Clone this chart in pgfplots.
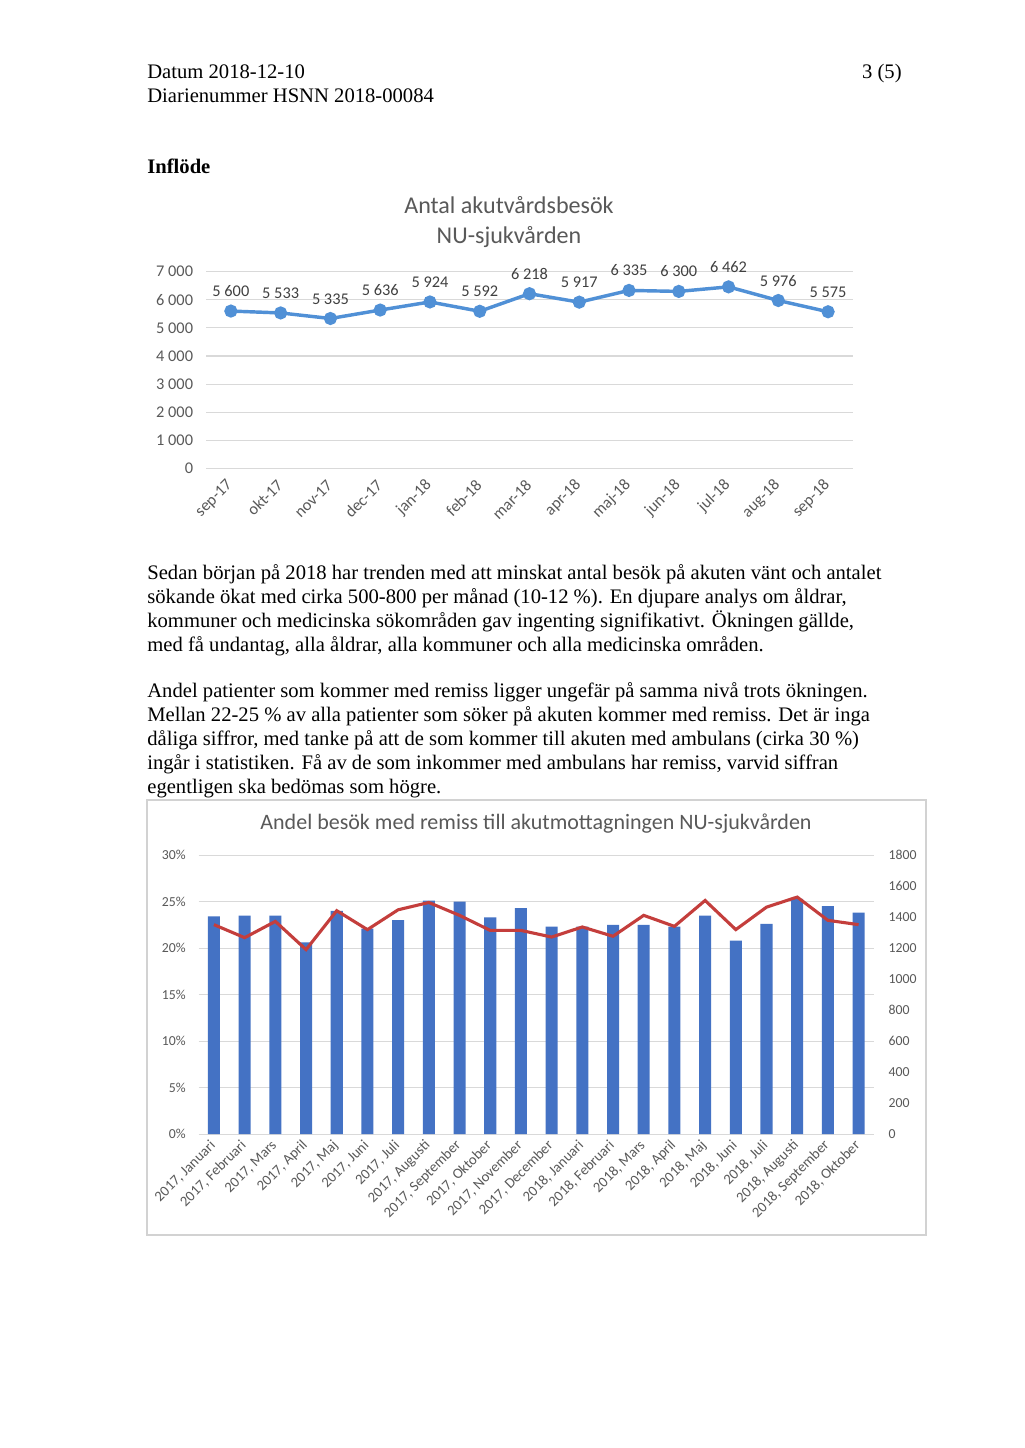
\documentclass[border=0pt]{standalone}
\usepackage{pgfplots}
\pgfplotsset{compat=1.18}
\usepackage{fontspec}
\setmainfont{Liberation Serif}
\newfontfamily\calfont{Carlito}
\definecolor{tickgray}{HTML}{595959}
\definecolor{labgray}{HTML}{404040}
\definecolor{linblue}{HTML}{5090D6}
\definecolor{barblue}{HTML}{4472C4}
\definecolor{linred}{RGB}{196,62,60}
\definecolor{gridgray}{HTML}{D9D9D9}
\begin{document}
\begin{tikzpicture}
\begin{scope}[x=0.5815pt,y=-0.5815pt]
\useasboundingbox (0,0) rectangle (1024,1448);
\fill[white] (0,0) rectangle (1024,1448);
\begin{scope}[every node/.style={inner sep=0pt,font=\fontsize{12}{14}\selectfont}]
\node[anchor=base west] at (147,79) {Datum 2018-12-10};
\node[anchor=base east] at (902,79) {3 (5)};
\node[anchor=base west] at (147,103) {Diarienummer HSNN 2018-00084};
\node[anchor=base west] at (147,174) {\bfseries Inflöde};
\node[anchor=base west] at (147,579) {Sedan början på 2018 har trenden med att minskat antal besök på akuten vänt och antalet};
\node[anchor=base west] at (147,603) {sökande ökat med cirka 500-800 per månad (10-12 \%). En djupare analys om åldrar,};
\node[anchor=base west] at (147,627) {kommuner och medicinska sökområden gav ingenting signifikativt. Ökningen gällde,};
\node[anchor=base west] at (147,651) {med få undantag, alla åldrar, alla kommuner och alla medicinska områden.};
\node[anchor=base west] at (147,697) {Andel patienter som kommer med remiss ligger ungefär på samma nivå trots ökningen.};
\node[anchor=base west] at (147,721) {Mellan 22-25 \% av alla patienter som söker på akuten kommer med remiss. Det är inga};
\node[anchor=base west] at (147,745) {dåliga siffror, med tanke på att de som kommer till akuten med ambulans (cirka 30 \%)};
\node[anchor=base west] at (147,769) {ingår i statistiken. Få av de som inkommer med ambulans har remiss, varvid siffran};
\node[anchor=base west] at (147,793) {egentligen ska bedömas som högre.};
\end{scope}
\node[font=\calfont\fontsize{14}{16}\selectfont,text=tickgray,align=center] at (509,222) {Antal akutvårdsbesök\\[1pt]NU-sjukvården};
\draw[gray!35,line width=0.6pt] (147,800) rectangle (926,1235);
\node[font=\calfont\fontsize{12.8}{15}\selectfont,text=tickgray] at (536,824) {Andel besök med remiss till akutmottagningen NU-sjukvården};
\end{scope}
\begin{axis}[at={(119.79pt,-272.32pt)},anchor=south west,scale only axis,
  width=376.2pt,height=114.3pt,
  xmin=-0.5,xmax=12.5,ymin=0,ymax=7000,
  axis line style={draw=none},tick style={draw=none},
  ymajorgrids,grid style={gridgray,line width=0.6pt},
  ytick={0,1000,...,7000},
  yticklabels={0,1 000,2 000,3 000,4 000,5 000,6 000,7 000},
  xtick={0,...,12},
  xticklabels={sep-17,okt-17,nov-17,dec-17,jan-18,feb-18,mar-18,apr-18,maj-18,jun-18,jul-18,aug-18,sep-18},
  ticklabel style={font=\calfont\fontsize{9.5}{11}\selectfont,text=tickgray},
  xticklabel style={yshift=-6pt,xshift=2pt,rotate=45,anchor=east},
  yticklabel style={xshift=-4pt},
  clip=false]
\addplot[color=linblue,line width=2pt,mark=*,mark size=2.8pt,
  nodes near coords={\pgfmathprintnumber[fixed,precision=0,1000 sep={\ },assume math mode=true]{\pgfplotspointmeta}},
  point meta=y,
  every node near coord/.style={font=\calfont\fontsize{9.5}{11}\selectfont,text=labgray,anchor=south,yshift=4pt}]
 coordinates {(0,5600)(1,5533)(2,5335)(3,5636)(4,5924)(5,5592)(6,6218)(7,5917)(8,6335)(9,6300)(10,6462)(11,5976)(12,5575)};
\end{axis}
\begin{axis}[at={(115.49pt,-659.42pt)},anchor=south west,scale only axis,
  width=392.7pt,height=162.2pt,
  xmin=-0.5,xmax=21.5,ymin=0,ymax=0.30,
  axis line style={draw=none},tick style={draw=none},
  ymajorgrids,grid style={gridgray,line width=0.6pt},
  ytick={0,0.05,...,0.30},
  yticklabels={0\%,5\%,10\%,15\%,20\%,25\%,30\%},
  xtick={0,...,21},
  xticklabels={{2017, Januari},{2017, Februari},{2017, Mars},{2017, April},{2017, Maj},{2017, Juni},{2017, Juli},{2017, Augusti},{2017, September},{2017, Oktober},{2017, November},{2017, December},{2018, Januari},{2018, Februari},{2018, Mars},{2018, April},{2018, Maj},{2018, Juni},{2018, Juli},{2018, Augusti},{2018, September},{2018, Oktober}},
  ticklabel style={font=\calfont\fontsize{8}{9}\selectfont,text=tickgray},
  xticklabel style={font=\calfont\fontsize{8.5}{9}\selectfont,yshift=-3pt,xshift=2pt,rotate=45,anchor=east},
  yticklabel style={xshift=-4pt},
  clip=false]
\addplot[ybar,bar width=7pt,fill=barblue,draw=none] coordinates {
(0,0.234)(1,0.235)(2,0.235)(3,0.206)(4,0.240)(5,0.221)(6,0.230)(7,0.251)(8,0.250)(9,0.233)(10,0.243)
(11,0.223)(12,0.223)(13,0.225)(14,0.225)(15,0.223)(16,0.235)(17,0.208)(18,0.226)(19,0.253)(20,0.245)(21,0.238)};
\end{axis}
\begin{axis}[at={(115.49pt,-659.42pt)},anchor=south west,scale only axis,
  width=392.7pt,height=162.2pt,
  xmin=-0.5,xmax=21.5,ymin=0,ymax=1800,
  axis x line=none,axis y line*=right,
  axis line style={draw=none},tick style={draw=none},
  ytick={0,200,...,1800},
  yticklabels={0,200,400,600,800,1000,1200,1400,1600,1800},
  ticklabel style={font=\calfont\fontsize{8}{9}\selectfont,text=tickgray},
  yticklabel style={xshift=5pt},
  clip=false]
\addplot[color=linred,line width=1.8pt,mark=none] coordinates {
(0,1351)(1,1267)(2,1372)(3,1190)(4,1441)(5,1319)(6,1447)(7,1494)(8,1411)(9,1314)(10,1314)
(11,1271)(12,1336)(13,1276)(14,1411)(15,1340)(16,1507)(17,1319)(18,1464)(19,1529)(20,1379)(21,1351)};
\end{axis}
\end{tikzpicture}
\end{document}
